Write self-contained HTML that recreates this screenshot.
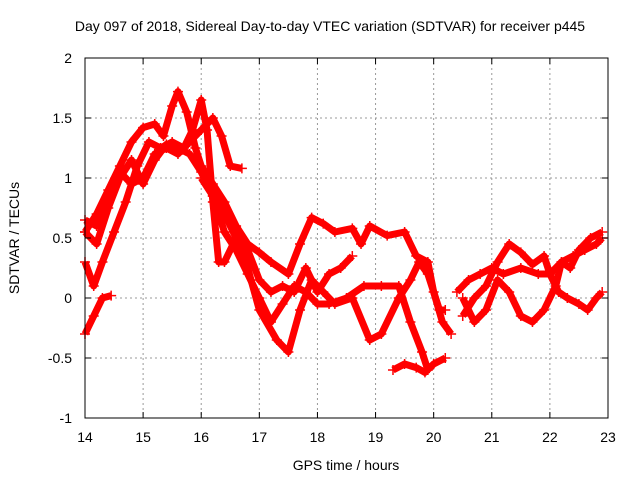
<!DOCTYPE html>
<html><head><meta charset="utf-8">
<style>
body{margin:0;background:#fff;}
svg text{font-family:"Liberation Sans",sans-serif;font-size:14px;fill:#000;}
</style></head>
<body>
<svg id="chart" width="640" height="480" viewBox="0 0 640 480" xmlns="http://www.w3.org/2000/svg">
<rect width="640" height="480" fill="#fff"/>
<text x="330" y="31" text-anchor="middle">Day 097 of 2018, Sidereal Day-to-day VTEC variation (SDTVAR) for receiver p445</text>
<text x="346" y="470" text-anchor="middle">GPS time / hours</text>
<text x="19" y="238" text-anchor="middle" transform="rotate(-90 19 238)">SDTVAR / TECUs</text>
<g id="grid"></g><g id="marks"></g><g id="axes"></g>
</svg>
<script>
const xTicks=[14,15,16,17,18,19,20,21,22,23];
const yTicks=[-1,-0.5,0,0.5,1,1.5,2];
const yTickLabels=["-1","-0.5","0","0.5","1","1.5","2"];
const s1=[[14.0,0.55],[14.2,0.7],[14.4,0.9],[14.6,1.1],[14.8,1.3],[15.0,1.42],[15.2,1.45],[15.35,1.35],[15.5,1.6],[15.6,1.72],[15.75,1.55],[15.9,1.25],[16.0,1.1],[16.2,0.95],[16.4,0.8],[16.6,0.6],[16.8,0.45],[17.0,0.38],[17.2,0.3],[17.5,0.2],[17.7,0.45],[17.9,0.67],[18.1,0.62],[18.3,0.55],[18.6,0.58],[18.75,0.45],[18.9,0.6],[19.2,0.52],[19.5,0.55],[19.7,0.35],[19.9,0.3],[20.0,0.05],[20.15,-0.2],[20.3,-0.3]];
const s2=[[14.0,-0.3],[14.15,-0.15],[14.3,0.0],[14.45,0.02]];
const s3=[[14.0,0.3],[14.15,0.1],[14.3,0.3],[14.5,0.55],[14.7,0.8],[14.9,1.1],[15.1,1.3],[15.3,1.25],[15.5,1.3],[15.7,1.25],[15.85,1.4],[16.0,1.65],[16.1,1.4],[16.2,0.8],[16.3,0.3],[16.4,0.3],[16.6,0.5],[16.8,0.25],[17.0,-0.1],[17.3,-0.35],[17.5,-0.45],[17.7,-0.1],[17.9,0.15],[18.1,0.05],[18.3,-0.05],[18.6,0.0],[18.9,-0.35],[19.1,-0.3],[19.4,0.0],[19.6,0.15],[19.75,0.3],[19.9,0.2],[20.1,-0.1],[20.2,-0.1]];
const s4=[[14.0,0.65],[14.2,0.6],[14.4,0.85],[14.6,1.05],[14.8,0.95],[15.0,1.0],[15.2,1.2],[15.4,1.25],[15.6,1.2],[15.8,1.3],[16.0,1.4],[16.2,1.5],[16.35,1.35],[16.5,1.1],[16.7,1.08]];
const s5=[[14.0,0.55],[14.2,0.45],[14.4,0.75],[14.6,1.0],[14.8,1.15],[15.0,0.95],[15.2,1.15],[15.4,1.28],[15.6,1.25],[15.8,1.2],[16.0,1.05],[16.2,0.85],[16.4,0.7],[16.6,0.5],[16.8,0.4],[17.0,0.15],[17.2,0.05],[17.4,0.1],[17.6,0.05],[17.8,0.25],[18.0,0.05],[18.2,0.2],[18.4,0.25],[18.6,0.35]];
const s6=[[16.0,1.0],[16.2,0.85],[16.4,0.55],[16.6,0.4],[16.8,0.2],[17.0,0.0],[17.2,-0.2],[17.4,-0.05],[17.6,0.1],[17.8,0.05],[18.0,-0.05],[18.2,-0.05],[18.5,0.0],[18.8,0.1],[19.1,0.1],[19.4,0.1],[19.6,-0.2],[19.8,-0.45],[19.9,-0.6]];
const s7=[[19.3,-0.6],[19.5,-0.55],[19.7,-0.58],[19.85,-0.62],[20.0,-0.55],[20.2,-0.5]];
const s8=[[20.4,0.05],[20.6,0.15],[20.8,0.2],[21.0,0.25],[21.2,0.2],[21.5,0.25],[21.8,0.2],[22.0,0.2],[22.2,0.3],[22.4,0.35],[22.6,0.4],[22.8,0.45],[22.9,0.5]];
const s9=[[20.5,-0.15],[20.7,0.0],[20.9,0.1],[21.1,0.3],[21.3,0.45],[21.5,0.38],[21.7,0.28],[21.9,0.35],[22.0,0.2],[22.15,0.05],[22.3,0.0],[22.5,-0.05],[22.65,-0.1],[22.8,0.0],[22.9,0.05]];
const s10=[[20.5,0.0],[20.7,-0.2],[20.9,-0.1],[21.1,0.15],[21.3,0.05],[21.5,-0.15],[21.7,-0.2],[21.9,-0.1],[22.1,0.1],[22.2,0.3],[22.35,0.25],[22.5,0.4],[22.7,0.5],[22.9,0.55]];
const series=[s1,s2,s3,s4,s5,s6,s7,s8,s9,s10];
const NS="http://www.w3.org/2000/svg";
const X0=85,X1=608,Y0=418,Y1=58;
function xs(h){return X0+(h-14)/(23-14)*(X1-X0);}
function ys(v){return Y0-(v+1)/3*(Y0-Y1);}
const grid=document.getElementById('grid'),axes=document.getElementById('axes'),marks=document.getElementById('marks');
xTicks.forEach(t=>{const x=xs(t);
 if(t>14&&t<23){const l=document.createElementNS(NS,'line');
  
  
  l.setAttribute('x1',x);l.setAttribute('x2',x);l.setAttribute('y1',Y1);l.setAttribute('y2',Y0);l.setAttribute('stroke','#999');l.setAttribute('stroke-dasharray','2,3');grid.appendChild(l);}
 const tk=document.createElementNS(NS,'path');
 
 
 tk.setAttribute('d',`M${x},${Y0}v-6M${x},${Y1}v6`);tk.setAttribute('stroke','#000');axes.appendChild(tk);
 const tx=document.createElementNS(NS,'text');
 
 
 tx.setAttribute('x',x);tx.setAttribute('y',Y0+24);tx.setAttribute('text-anchor','middle');tx.textContent=t;axes.appendChild(tx);});
yTicks.forEach((t,i)=>{const y=ys(t);
 if(t>-1&&t<2){const l=document.createElementNS(NS,'line');
  
  
  l.setAttribute('x1',X0);l.setAttribute('x2',X1);l.setAttribute('y1',y);l.setAttribute('y2',y);l.setAttribute('stroke','#999');l.setAttribute('stroke-dasharray','2,3');grid.appendChild(l);}
 const tk=document.createElementNS(NS,'path');
 
 
 tk.setAttribute('d',`M${X0},${y}h6M${X1},${y}h-6`);tk.setAttribute('stroke','#000');axes.appendChild(tk);
 const tx=document.createElementNS(NS,'text');
 
 
 tx.setAttribute('x',X0-13);tx.setAttribute('y',y+5);tx.setAttribute('text-anchor','end');tx.textContent=yTickLabels[i];axes.appendChild(tx);});
const fr=document.createElementNS(NS,'rect');


fr.setAttribute('x',X0);fr.setAttribute('y',Y1);fr.setAttribute('width',X1-X0);fr.setAttribute('height',Y0-Y1);fr.setAttribute('fill','none');fr.setAttribute('stroke','#000');axes.appendChild(fr);
series.forEach((s,si)=>{
 const pl=document.createElementNS(NS,'polyline');
 
 
 pl.setAttribute('points',s.map(p=>xs(p[0])+','+ys(p[1])).join(' '));
 pl.setAttribute('fill','none');pl.setAttribute('stroke','#f00');pl.setAttribute('stroke-width','7');pl.setAttribute('stroke-linejoin','round');marks.appendChild(pl);
 s.forEach(p=>{const m=document.createElementNS(NS,'path');
  
  
  const x=xs(p[0]),y=ys(p[1]);
  m.setAttribute('d',`M${x-5},${y}h10M${x},${y-5}v10`);m.setAttribute('stroke','#f00');m.setAttribute('stroke-width','1.5');marks.appendChild(m);});
});
</script>
</body></html>
